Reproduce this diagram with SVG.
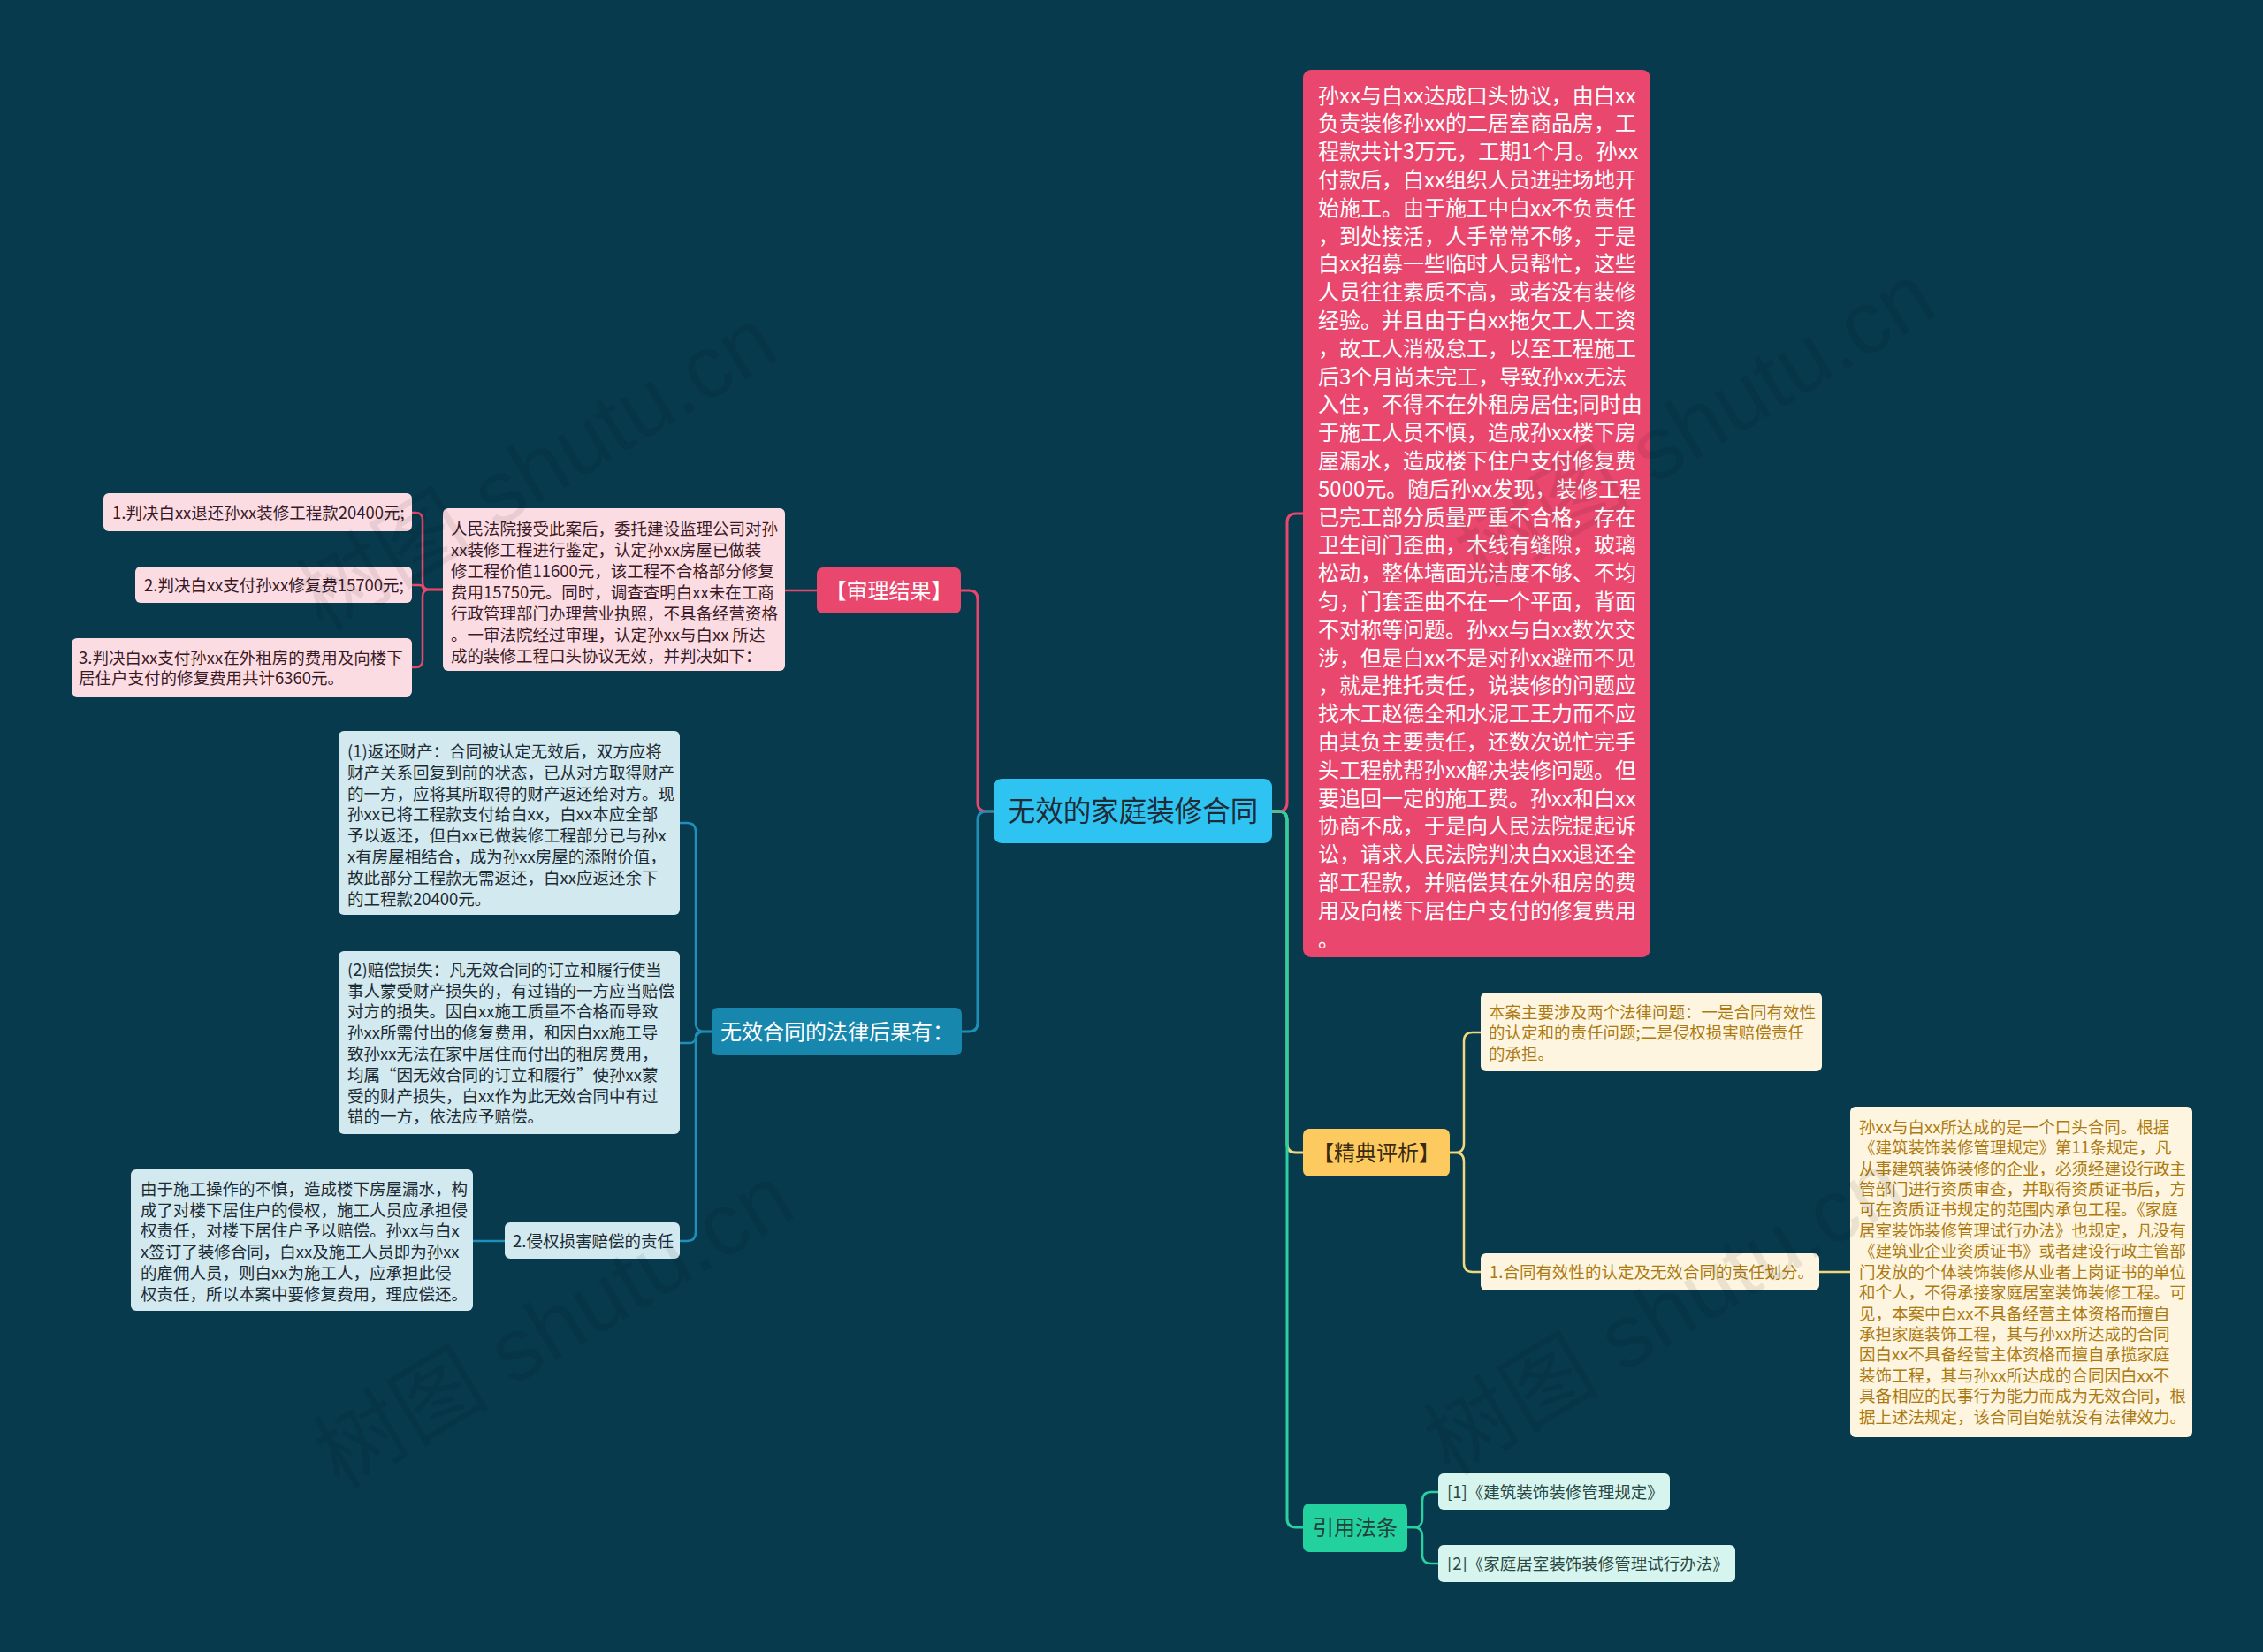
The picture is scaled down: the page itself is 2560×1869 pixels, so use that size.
<svg xmlns="http://www.w3.org/2000/svg" width="2560" height="1869" viewBox="0 0 2560 1869">
<style>
text{font-family:"Noto Sans CJK SC","Noto Sans",sans-serif;}
.c{fill:none;stroke-width:3;stroke-linecap:round;stroke-linejoin:round}
.s{fill:none;stroke-width:2.5;stroke-linecap:round;stroke-linejoin:round}
.pk{stroke:#e9476d}.bl{stroke:#1d8fb8}.yl{stroke:#f1d87e}.gr{stroke:#2bd0a0}
.t24{font-size:24px}.t18{font-size:18.5px}
.wm{font-family:"Liberation Sans","Noto Sans CJK SC",sans-serif;font-size:100px;fill:#000;opacity:0.07}
</style>
<rect width="2560" height="1869" fill="#083a4e"/>

<g id="connectors">
  <path class="c pk" d="M1124,918 H1116 Q1106,918 1106,908 V678 Q1106,668 1096,668 H1087"/>
  <path class="c bl" d="M1124,918 H1116 Q1106,918 1106,928 V1157 Q1106,1167 1096,1167 H1088"/>
  <path class="c pk" d="M1439,918 H1446 Q1456,918 1456,908 V591 Q1456,581 1466,581 H1474"/>
  <path class="c yl" d="M1439,918 H1446 Q1456,918 1456,928 V1294 Q1456,1304 1466,1304 H1474"/>
  <path class="c gr" d="M1439,918 H1446 Q1456,918 1456,928 V1718 Q1456,1728 1466,1728 H1474"/>
  <path class="s pk" d="M924,668 H888"/>
  <path class="s pk" d="M501,667 H486 Q478,667 478,659 V588 Q478,580 470,580 H466"/>
  <path class="s pk" d="M501,667 H486 Q478,667 478,664 Q478,662 474,662 H466"/>
  <path class="s pk" d="M501,667 H486 Q478,667 478,675 V747 Q478,755 470,755 H466"/>
  <path class="s bl" d="M805,1167 H797 Q787,1167 787,1157 V941 Q787,931 777,931 H769"/>
  <path class="s bl" d="M805,1167 H794 Q787,1167 787,1173 Q787,1180 780,1180 H769"/>
  <path class="s bl" d="M805,1167 H797 Q787,1167 787,1177 V1394 Q787,1404 777,1404 H769"/>
  <path class="s bl" d="M571,1404 H535"/>
  <path class="s yl" d="M1640,1304 H1646 Q1656,1304 1656,1294 V1178 Q1656,1168 1666,1168 H1675"/>
  <path class="s yl" d="M1640,1304 H1646 Q1656,1304 1656,1314 V1429 Q1656,1439 1666,1439 H1675"/>
  <path class="s yl" d="M2058,1439 H2093"/>
  <path class="s gr" d="M1592,1728 H1599 Q1609,1728 1609,1718 V1698 Q1609,1688 1619,1688 H1627"/>
  <path class="s gr" d="M1592,1728 H1599 Q1609,1728 1609,1738 V1759 Q1609,1769 1619,1769 H1627"/>
</g>

<g id="root">
  <rect x="1124" y="881" width="315" height="73" rx="9" fill="#2ec3f0"/>
  <text x="1281.5" y="929" font-size="31.5" fill="#1e2c38" text-anchor="middle">无效的家庭装修合同</text>
</g>

<g id="n-shenli">
  <rect x="924" y="642" width="163" height="52" rx="7" fill="#e9476d"/>
  <text class="t24" x="1005.5" y="676.5" fill="#ffffff" text-anchor="middle">【审理结果】</text>
</g>

<g id="n-shenli-detail">
  <rect x="501" y="575" width="387" height="184" rx="6" fill="#fcdce3"/>
  <text class="t18" fill="#3a1a25">
    <tspan x="510" y="604.7">人民法院接受此案后，委托建设监理公司对孙</tspan>
    <tspan x="510" y="628.7">xx装修工程进行鉴定，认定孙xx房屋已做装</tspan>
    <tspan x="510" y="652.7">修工程价值11600元，该工程不合格部分修复</tspan>
    <tspan x="510" y="676.7">费用15750元。同时，调查查明白xx未在工商</tspan>
    <tspan x="510" y="700.7">行政管理部门办理营业执照，不具备经营资格</tspan>
    <tspan x="510" y="724.7">。一审法院经过审理，认定孙xx与白xx 所达</tspan>
    <tspan x="510" y="748.7">成的装修工程口头协议无效，并判决如下：</tspan>
  </text>
</g>

<g id="n-j1">
  <rect x="117" y="558" width="349" height="43" rx="6" fill="#fcdce3"/>
  <text class="t18" x="127" y="586.5" fill="#3a1a25">1.判决白xx退还孙xx装修工程款20400元;</text>
</g>
<g id="n-j2">
  <rect x="153" y="641" width="313" height="41" rx="6" fill="#fcdce3"/>
  <text class="t18" x="163" y="668.5" fill="#3a1a25">2.判决白xx支付孙xx修复费15700元;</text>
</g>
<g id="n-j3">
  <rect x="81" y="722" width="385" height="66" rx="6" fill="#fcdce3"/>
  <text class="t18" fill="#3a1a25">
    <tspan x="89" y="750.7">3.判决白xx支付孙xx在外租房的费用及向楼下</tspan>
    <tspan x="89" y="773.7">居住户支付的修复费用共计6360元。</tspan>
  </text>
</g>

<g id="n-houguo">
  <rect x="805" y="1140" width="283" height="54" rx="7" fill="#1887ae"/>
  <text class="t24" x="815" y="1175.5" fill="#ffffff">无效合同的法律后果有：</text>
</g>

<g id="n-fanhuan">
  <rect x="383" y="827" width="386" height="208" rx="6" fill="#d2e9f0"/>
  <text class="t18" fill="#1d2b33">
    <tspan x="393" y="856.7">(1)返还财产：合同被认定无效后，双方应将</tspan>
    <tspan x="393" y="880.6">财产关系回复到前的状态，已从对方取得财产</tspan>
    <tspan x="393" y="904.5">的一方，应将其所取得的财产返还给对方。现</tspan>
    <tspan x="393" y="928.4">孙xx已将工程款支付给白xx，白xx本应全部</tspan>
    <tspan x="393" y="952.3">予以返还，但白xx已做装修工程部分已与孙x</tspan>
    <tspan x="393" y="976.2">x有房屋相结合，成为孙xx房屋的添附价值，</tspan>
    <tspan x="393" y="1000.1">故此部分工程款无需返还，白xx应返还余下</tspan>
    <tspan x="393" y="1024">的工程款20400元。</tspan>
  </text>
</g>

<g id="n-peichang">
  <rect x="383" y="1076" width="386" height="207" rx="6" fill="#d2e9f0"/>
  <text class="t18" fill="#1d2b33">
    <tspan x="393" y="1103.7">(2)赔偿损失：凡无效合同的订立和履行使当</tspan>
    <tspan x="393" y="1127.5">事人蒙受财产损失的，有过错的一方应当赔偿</tspan>
    <tspan x="393" y="1151.3">对方的损失。因白xx施工质量不合格而导致</tspan>
    <tspan x="393" y="1175.1">孙xx所需付出的修复费用，和因白xx施工导</tspan>
    <tspan x="393" y="1198.9">致孙xx无法在家中居住而付出的租房费用，</tspan>
    <tspan x="393" y="1222.7">均属“因无效合同的订立和履行”使孙xx蒙</tspan>
    <tspan x="393" y="1246.5">受的财产损失，白xx作为此无效合同中有过</tspan>
    <tspan x="393" y="1270.3">错的一方，依法应予赔偿。</tspan>
  </text>
</g>

<g id="n-qinquan">
  <rect x="571" y="1383" width="198" height="41" rx="6" fill="#d2e9f0"/>
  <text class="t18" x="580" y="1410.5" fill="#1d2b33">2.侵权损害赔偿的责任</text>
</g>

<g id="n-qinquan-detail">
  <rect x="148" y="1323" width="387" height="160" rx="6" fill="#d2e9f0"/>
  <text class="t18" fill="#1d2b33">
    <tspan x="159" y="1351.7">由于施工操作的不慎，造成楼下房屋漏水，构</tspan>
    <tspan x="159" y="1375.5">成了对楼下居住户的侵权，施工人员应承担侵</tspan>
    <tspan x="159" y="1399.3">权责任，对楼下居住户予以赔偿。孙xx与白x</tspan>
    <tspan x="159" y="1423.1">x签订了装修合同，白xx及施工人员即为孙xx</tspan>
    <tspan x="159" y="1446.9">的雇佣人员，则白xx为施工人，应承担此侵</tspan>
    <tspan x="159" y="1470.7">权责任，所以本案中要修复费用，理应偿还。</tspan>
  </text>
</g>

<g id="n-case">
  <rect x="1474" y="79" width="393" height="1004" rx="9" fill="#e9476d"/>
  <text class="t24" fill="#ffffff">
    <tspan x="1491" y="116.6">孙xx与白xx达成口头协议，由白xx</tspan>
    <tspan x="1491" y="148.4">负责装修孙xx的二居室商品房，工</tspan>
    <tspan x="1491" y="180.2">程款共计3万元，工期1个月。孙xx</tspan>
    <tspan x="1491" y="212">付款后，白xx组织人员进驻场地开</tspan>
    <tspan x="1491" y="243.8">始施工。由于施工中白xx不负责任</tspan>
    <tspan x="1491" y="275.6">，到处接活，人手常常不够，于是</tspan>
    <tspan x="1491" y="307.4">白xx招募一些临时人员帮忙，这些</tspan>
    <tspan x="1491" y="339.2">人员往往素质不高，或者没有装修</tspan>
    <tspan x="1491" y="371">经验。并且由于白xx拖欠工人工资</tspan>
    <tspan x="1491" y="402.8">，故工人消极怠工，以至工程施工</tspan>
    <tspan x="1491" y="434.6">后3个月尚未完工，导致孙xx无法</tspan>
    <tspan x="1491" y="466.4">入住，不得不在外租房居住;同时由</tspan>
    <tspan x="1491" y="498.2">于施工人员不慎，造成孙xx楼下房</tspan>
    <tspan x="1491" y="530">屋漏水，造成楼下住户支付修复费</tspan>
    <tspan x="1491" y="561.8">5000元。随后孙xx发现，装修工程</tspan>
    <tspan x="1491" y="593.6">已完工部分质量严重不合格，存在</tspan>
    <tspan x="1491" y="625.4">卫生间门歪曲，木线有缝隙，玻璃</tspan>
    <tspan x="1491" y="657.2">松动，整体墙面光洁度不够、不均</tspan>
    <tspan x="1491" y="689">匀，门套歪曲不在一个平面，背面</tspan>
    <tspan x="1491" y="720.8">不对称等问题。孙xx与白xx数次交</tspan>
    <tspan x="1491" y="752.6">涉，但是白xx不是对孙xx避而不见</tspan>
    <tspan x="1491" y="784.4">，就是推托责任，说装修的问题应</tspan>
    <tspan x="1491" y="816.2">找木工赵德全和水泥工王力而不应</tspan>
    <tspan x="1491" y="848">由其负主要责任，还数次说忙完手</tspan>
    <tspan x="1491" y="879.8">头工程就帮孙xx解决装修问题。但</tspan>
    <tspan x="1491" y="911.6">要追回一定的施工费。孙xx和白xx</tspan>
    <tspan x="1491" y="943.4">协商不成，于是向人民法院提起诉</tspan>
    <tspan x="1491" y="975.2">讼，请求人民法院判决白xx退还全</tspan>
    <tspan x="1491" y="1007">部工程款，并赔偿其在外租房的费</tspan>
    <tspan x="1491" y="1038.8">用及向楼下居住户支付的修复费用</tspan>
    <tspan x="1491" y="1070.6">。</tspan>
  </text>
</g>

<g id="n-pingxi">
  <rect x="1474" y="1277" width="166" height="54" rx="7" fill="#fdca5f"/>
  <text class="t24" x="1557" y="1312.5" fill="#3a2a12" text-anchor="middle">【精典评析】</text>
</g>

<g id="n-pingxi-a">
  <rect x="1675" y="1123" width="386" height="89" rx="6" fill="#fdf5df"/>
  <text class="t18" fill="#ad7a12">
    <tspan x="1684" y="1151.7">本案主要涉及两个法律问题：一是合同有效性</tspan>
    <tspan x="1684" y="1175.2">的认定和的责任问题;二是侵权损害赔偿责任</tspan>
    <tspan x="1684" y="1198.7">的承担。</tspan>
  </text>
</g>

<g id="n-pingxi-b">
  <rect x="1675" y="1418" width="383" height="42" rx="6" fill="#fdf5df"/>
  <text class="t18" x="1685" y="1446" fill="#ad7a12">1.合同有效性的认定及无效合同的责任划分。</text>
</g>

<g id="n-pingxi-c">
  <rect x="2093" y="1252" width="387" height="374" rx="6" fill="#fdf5df"/>
  <text class="t18" fill="#ad7a12">
    <tspan x="2103" y="1281.7">孙xx与白xx所达成的是一个口头合同。根据</tspan>
    <tspan x="2103" y="1305.1">《建筑装饰装修管理规定》第11条规定，凡</tspan>
    <tspan x="2103" y="1328.6">从事建筑装饰装修的企业，必须经建设行政主</tspan>
    <tspan x="2103" y="1352">管部门进行资质审查，并取得资质证书后，方</tspan>
    <tspan x="2103" y="1375.4">可在资质证书规定的范围内承包工程。《家庭</tspan>
    <tspan x="2103" y="1398.9">居室装饰装修管理试行办法》也规定，凡没有</tspan>
    <tspan x="2103" y="1422.3">《建筑业企业资质证书》或者建设行政主管部</tspan>
    <tspan x="2103" y="1445.7">门发放的个体装饰装修从业者上岗证书的单位</tspan>
    <tspan x="2103" y="1469.1">和个人，不得承接家庭居室装饰装修工程。可</tspan>
    <tspan x="2103" y="1492.6">见，本案中白xx不具备经营主体资格而擅自</tspan>
    <tspan x="2103" y="1516">承担家庭装饰工程，其与孙xx所达成的合同</tspan>
    <tspan x="2103" y="1539.4">因白xx不具备经营主体资格而擅自承揽家庭</tspan>
    <tspan x="2103" y="1562.9">装饰工程，其与孙xx所达成的合同因白xx不</tspan>
    <tspan x="2103" y="1586.3">具备相应的民事行为能力而成为无效合同，根</tspan>
    <tspan x="2103" y="1609.7">据上述法规定，该合同自始就没有法律效力。</tspan>
  </text>
</g>

<g id="n-fatiao">
  <rect x="1474" y="1701" width="118" height="55" rx="7" fill="#22d19e"/>
  <text class="t24" x="1533" y="1737" fill="#24403a" text-anchor="middle">引用法条</text>
</g>
<g id="n-fatiao-1">
  <rect x="1627" y="1667" width="262" height="41" rx="6" fill="#d6f5ee"/>
  <text class="t18" x="1637" y="1694.5" fill="#2a4743">[1]《建筑装饰装修管理规定》</text>
</g>
<g id="n-fatiao-2">
  <rect x="1627" y="1748" width="336" height="42" rx="6" fill="#d6f5ee"/>
  <text class="t18" x="1637" y="1775.5" fill="#2a4743">[2]《家庭居室装饰装修管理试行办法》</text>
</g>

<g id="watermark">
  <text class="wm" x="0" y="0" text-anchor="middle" transform="translate(625,560) rotate(-31)">树图 shutu.cn</text>
  <text class="wm" x="0" y="0" text-anchor="middle" transform="translate(1935,510) rotate(-31)">树图 shutu.cn</text>
  <text class="wm" x="0" y="0" text-anchor="middle" transform="translate(644,1530) rotate(-31)">树图 shutu.cn</text>
  <text class="wm" x="0" y="0" text-anchor="middle" transform="translate(1900,1515) rotate(-31)">树图 shutu.cn</text>
</g>
</svg>
